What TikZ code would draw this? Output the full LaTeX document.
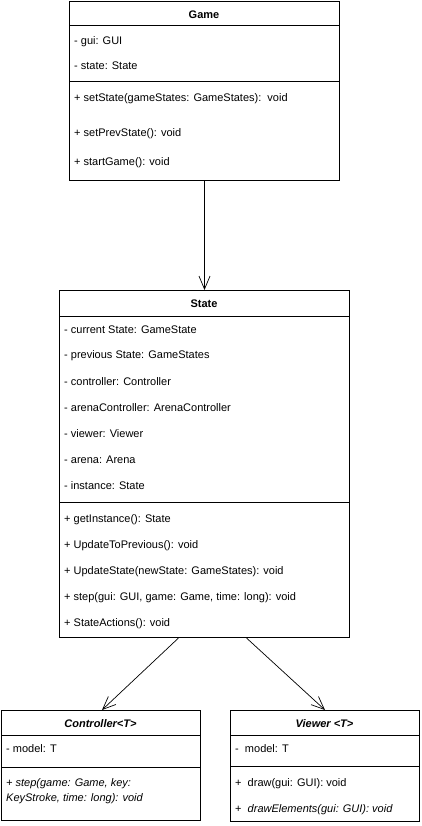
\documentclass[tikz,border=0pt]{standalone}
\usepackage{fontspec}
\setmainfont{Liberation Sans}
\usetikzlibrary{arrows.meta,calc}
\tikzset{
  umlbox/.style={draw=black, line width=1pt, fill=white, anchor=north west, inner sep=0pt},
  divline/.style={draw=black, line width=1pt},
  txt/.style={anchor=west, inner sep=0pt, font=\fontsize{11}{13}\selectfont},
  hdr/.style={anchor=center, inner sep=0pt, font=\fontsize{11}{13}\selectfont\bfseries},
  assoc/.style={draw=black, line width=0.7pt, -{Straight Barb[length=13pt,width=11pt,line width=0.7pt]}}
}
\begin{document}
\begin{tikzpicture}[x=1pt,y=-1pt]
\useasboundingbox (0,0) rectangle (421,826);

% Game
\node[umlbox, minimum width=270pt, minimum height=179pt] (game) at (69,1) {};
\draw[divline] (69,26) -- (339,26);
\draw[divline] (69,82) -- (339,82);
\node[hdr] (gameh) at (204,15) {Game};
\node[txt] (g1) at (74,42) {- gui: GUI};
\node[txt] (g2) at (74,66) {- state: State};
\node[txt] (g3) at (74,99) {+ setState(gameStates: GameStates):\ \ void};
\node[txt] (g4) at (74,134) {+ setPrevState(): void};
\node[txt] (g5) at (74,163) {+ startGame(): void};

% State
\node[umlbox, minimum width=290pt, minimum height=347pt] (state) at (59,290) {};
\draw[divline] (59,316) -- (349,316);
\draw[divline] (59,502) -- (349,502);
\node[hdr] (stateh) at (204,304) {State};
\node[txt] (s1) at (64,330) {- current State: GameState};
\node[txt] (s2) at (64,356) {- previous State: GameStates};
\node[txt] (s3) at (64,382) {- controller: Controller};
\node[txt] (s4) at (64,408) {- arenaController: ArenaController};
\node[txt] (s5) at (64,434) {- viewer: Viewer};
\node[txt] (s6) at (64,460) {- arena: Arena};
\node[txt] (s7) at (64,486) {- instance: State};
\node[txt] (s8) at (64,520) {+ getInstance(): State};
\node[txt] (s9) at (64,546) {+ UpdateToPrevious(): void};
\node[txt] (s10) at (64,572) {+ UpdateState(newState: GameStates): void};
\node[txt] (s11) at (64,598) {+ step(gui: GUI, game: Game, time: long): void};
\node[txt] (s12) at (64,624) {+ StateActions(): void};

% Controller
\node[umlbox, minimum width=199pt, minimum height=110pt] (ctrl) at (1,710) {};
\draw[divline] (1,735) -- (200,735);
\draw[divline] (1,767) -- (200,767);
\node[hdr, font=\fontsize{11}{13}\selectfont\bfseries\itshape] (ctrlh) at (100.5,724) {Controller<T>};
\node[txt] (c1) at (6,749) {- model: T};
\node[txt] (c2) at (6,784) {\itshape + step(game: Game, key:};
\node[txt] (c3) at (6,799) {\itshape KeyStroke, time: long): void};

% Viewer
\node[umlbox, minimum width=189pt, minimum height=111pt] (view) at (230,710) {};
\draw[divline] (230,735) -- (419,735);
\draw[divline] (230,766) -- (419,766);
\node[hdr, font=\fontsize{11}{13}\selectfont\bfseries\itshape] (viewh) at (324.5,724) {Viewer <T>};
\node[txt] (v1) at (235,749) {-\ \ model: T};
\node[txt] (v2) at (235,784) {+\ \ draw(gui: GUI): void};
\node[txt] (v3) at (235,810) {+\ \ \textit{drawElements(gui: GUI): void}};

% connectors
\coordinate (sl) at ($(state.south)+(-26,0)$);
\coordinate (sr) at ($(state.south)+(42,0)$);
\draw[assoc] (game.south) -- (state.north);
\draw[assoc] (sl) -- ($(ctrl.north)+(1,0)$);
\draw[assoc] (sr) -- ($(view.north)+(0,0)$);
\end{tikzpicture}
\end{document}
